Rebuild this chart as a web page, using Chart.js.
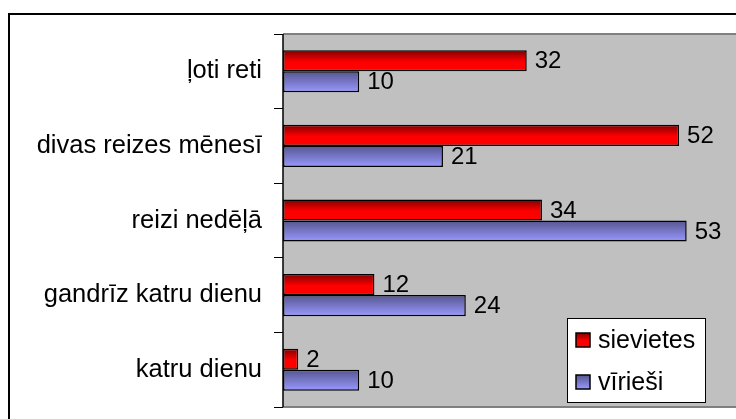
<!DOCTYPE html>
<html>
<head>
<meta charset="utf-8">
<script src="https://cdn.jsdelivr.net/npm/chart.js@4.4.0/dist/chart.umd.min.js"></script>
<style>
  html, body { margin: 0; padding: 0; background: #fff; overflow: hidden; }
  #wrap { width: 745px; height: 425px; }
</style>
</head>
<body>
<div id="wrap"><canvas id="bar-chart" width="745" height="425"></canvas></div>
<script>
var categories = ["ļoti reti", "divas reizes mēnesī", "reizi nedēļā", "gandrīz katru dienu", "katru dienu"];
var seriesNames = ["sievietes", "vīrieši"];
var sievietes = [32, 52, 34, 12, 2];
var virviesi = [10, 21, 53, 24, 10];

var font = "'Liberation Sans', Arial, sans-serif";

function makeGrad(ctx, top, bottom, i) {
    var g = ctx.createLinearGradient(0, top, 0, bottom);
    if (i == 0) {
        g.addColorStop(0, "#800000");
        g.addColorStop(0.55, "#ff0000");
        g.addColorStop(1, "#ff0000");
    } else {
        g.addColorStop(0, "#55558f");
        g.addColorStop(1, "#9999ff");
    }
    return g;
}

var decor = {
    id: 'decor',
    beforeDraw: function(chart) {
        var c = chart.ctx, a = chart.chartArea;
        c.save();
        // outer frame
        c.strokeStyle = "#000";
        c.lineWidth = 2;
        c.strokeRect(9, 14, 800, 500);
        // plot background
        c.fillStyle = "#c0c0c0";
        c.fillRect(a.left, a.top, a.right - a.left, a.bottom - a.top);
        c.strokeStyle = "#808080";
        c.lineWidth = 2;
        c.beginPath();
        c.moveTo(a.left, a.top);
        c.lineTo(a.right + 10, a.top);
        c.moveTo(a.left, a.bottom);
        c.lineTo(a.right + 10, a.bottom);
        c.stroke();
        c.restore();
    },
    beforeDatasetsDraw: function(chart) {
        // every bar gets its own gradient (options are shared between bars otherwise)
        chart.data.datasets.forEach(function(ds, i) {
            chart.getDatasetMeta(i).data.forEach(function(bar) {
                var o = Object.assign({}, bar.options);
                o.backgroundColor = makeGrad(chart.ctx, bar.y - bar.height / 2, bar.y + bar.height / 2, i);
                bar.options = o;
            });
        });
    },
    afterDatasetsDraw: function(chart) {
        var c = chart.ctx;
        c.save();
        c.fillStyle = "#000";
        c.font = "24px " + font;
        c.textBaseline = "middle";
        c.textAlign = "left";
        chart.data.datasets.forEach(function(ds, i) {
            chart.getDatasetMeta(i).data.forEach(function(bar, j) {
                c.fillText(ds.data[j], bar.x + 8, bar.y + 1);
            });
        });
        // left axis line
        var a = chart.chartArea;
        c.strokeStyle = "#000";
        c.lineWidth = 1.5;
        c.beginPath();
        c.moveTo(a.left, a.top);
        c.lineTo(a.left, a.bottom);
        c.stroke();
        c.restore();
    },
    afterDraw: function(chart) {
        var c = chart.ctx;
        c.save();
        c.fillStyle = "#fff";
        c.fillRect(567, 318, 138, 84);
        c.strokeStyle = "#000";
        c.lineWidth = 1;
        c.strokeRect(567.5, 318.5, 138, 84);
        c.font = "25px " + font;
        c.textBaseline = "middle";
        c.textAlign = "left";
        var ys = [340, 382];
        seriesNames.forEach(function(name, i) {
            var y = ys[i];
            c.fillStyle = makeGrad(c, y - 7, y + 7, i);
            c.fillRect(576, y - 7, 14, 14);
            c.strokeStyle = "#000";
            c.lineWidth = 1.5;
            c.strokeRect(576, y - 7, 14, 14);
            c.fillStyle = "#000";
            c.fillText(name, 598, y + 1);
        });
        c.restore();
    }
};

new Chart(document.getElementById("bar-chart"), {
    type: 'bar',
    data: {
        labels: categories,
        datasets: [{
            label: seriesNames[0],
            data: sievietes,
            backgroundColor: "#ff0000",
            borderColor: "#000",
            borderWidth: 1.5,
            borderSkipped: false,
            categoryPercentage: 0.565,
            barPercentage: 1.0
        }, {
            label: seriesNames[1],
            data: virviesi,
            backgroundColor: "#9999ff",
            borderColor: "#000",
            borderWidth: 1.5,
            borderSkipped: false,
            categoryPercentage: 0.565,
            barPercentage: 1.0
        }]
    },
    options: {
        indexAxis: 'y',
        responsive: false,
        animation: false,
        layout: { padding: { top: 34, bottom: 18, right: 5, left: 0 } },
        plugins: {
            legend: { display: false },
            tooltip: { enabled: false }
        },
        scales: {
            x: {
                display: false,
                min: 0,
                max: 60
            },
            y: {
                afterFit: function(s) {
                    s.width = 283;
                    s.paddingTop = 0;
                    s.paddingBottom = 0;
                },
                grid: {
                    offset: true,
                    drawOnChartArea: false,
                    tickLength: 9,
                    color: "#000"
                },
                border: { display: false },
                ticks: {
                    color: "#000",
                    padding: 12,
                    font: { family: font, size: 25.5 }
                }
            }
        }
    },
    plugins: [decor]
});
</script>
</body>
</html>
